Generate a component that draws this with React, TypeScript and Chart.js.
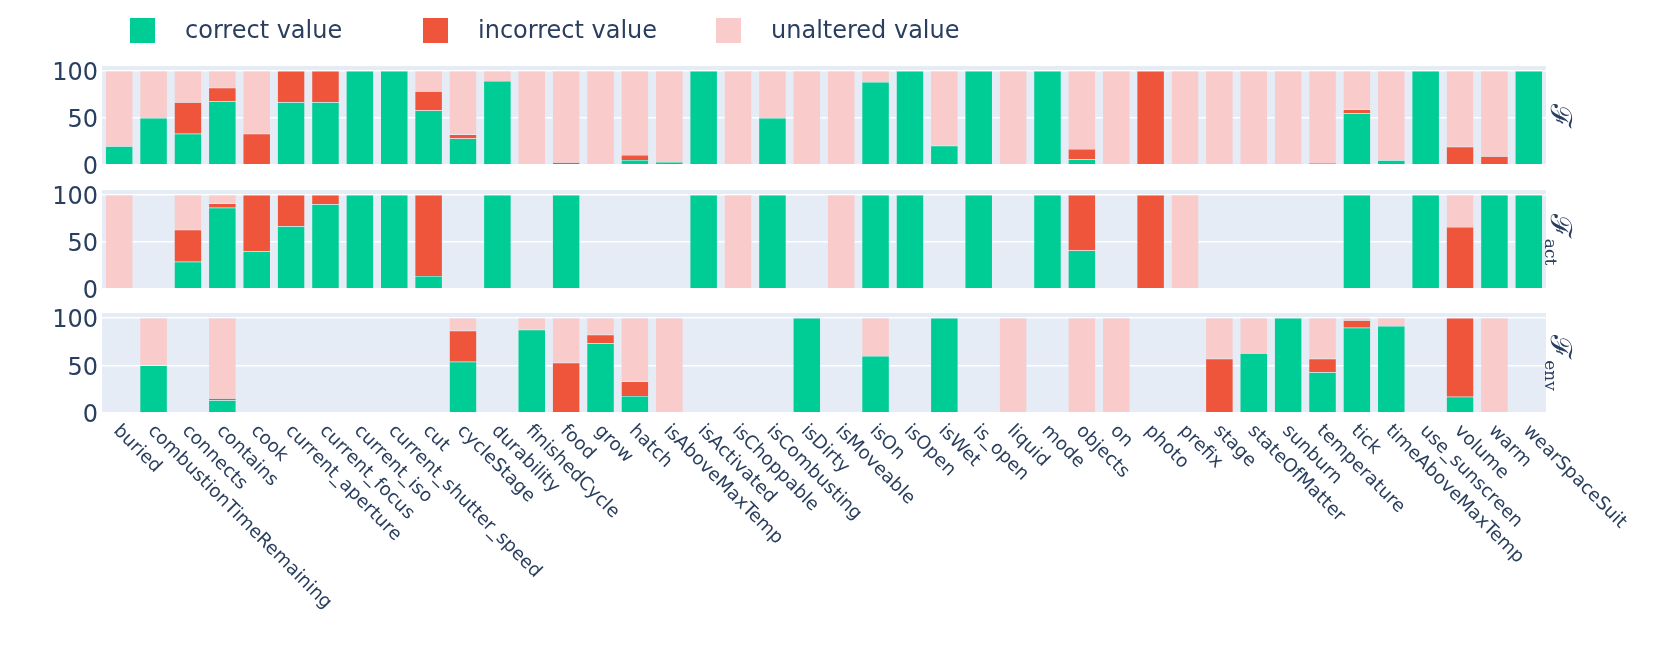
import React, { useEffect, useRef } from "react";
import { Chart, registerables } from "chart.js";

Chart.register(...registerables);

// ---------- data ----------
const categories = [
  "buried", "combustionTimeRemaining", "connects", "contains", "cook",
  "current_aperture", "current_focus", "current_iso", "current_shutter_speed", "cut",
  "cycleStage", "durability", "finishedCycle", "food", "grow",
  "hatch", "isAboveMaxTemp", "isActivated", "isChoppable", "isCombusting",
  "isDirty", "isMoveable", "isOn", "isOpen", "isWet",
  "is_open", "liquid", "mode", "objects", "on",
  "photo", "prefix", "stage", "stateOfMatter", "sunburn",
  "temperature", "tick", "timeAboveMaxTemp", "use_sunscreen", "volume",
  "warm", "wearSpaceSuit",
];

const seriesNames = ["correct value", "incorrect value", "unaltered value"];

// Panel F
const fCorrect = [20, 50, 33.3, 67.9, 0, 66.7, 66.7, 100, 100, 58, 28.3, 89.4, 0, 0, 0, 5.3, 3.2, 100, 0, 50, 0, 0, 88.3, 100, 20.5, 100, 0, 100, 6, 0, 0, 0, 0, 0, 0, 0, 54.8, 5, 100, 0, 0, 100];
const fIncorrect = [0, 0, 33.3, 14.3, 33.3, 33.3, 33.3, 0, 0, 20.5, 4.2, 0, 0, 2.8, 0, 5.3, 0, 0, 0, 0, 0, 0, 0, 0, 0, 0, 0, 0, 11, 0, 100, 0, 0, 0, 0, 2, 4.2, 0, 0, 19.4, 9.2, 0];
const fUnaltered = [80, 50, 33.4, 17.8, 66.7, 0, 0, 0, 0, 21.5, 67.5, 10.6, 100, 97.2, 100, 89.4, 96.8, 0, 100, 50, 100, 100, 11.7, 0, 79.5, 0, 100, 0, 83, 100, 0, 100, 100, 100, 100, 98, 41, 95, 0, 80.6, 90.8, 0];

// Panel F_act
const actCorrect = [0, 0, 29, 86.5, 40, 66.7, 90, 100, 100, 13.8, 0, 100, 0, 100, 0, 0, 0, 100, 0, 100, 0, 0, 100, 100, 0, 100, 0, 100, 41, 0, 0, 0, 0, 0, 0, 0, 100, 0, 100, 0, 100, 100];
const actIncorrect = [0, 0, 34, 4.3, 60, 33.3, 10, 0, 0, 86.2, 0, 0, 0, 0, 0, 0, 0, 0, 0, 0, 0, 0, 0, 0, 0, 0, 0, 0, 59, 0, 100, 0, 0, 0, 0, 0, 0, 0, 0, 66, 0, 0];
const actUnaltered = [100, 0, 37, 9.2, 0, 0, 0, 0, 0, 0, 0, 0, 0, 0, 0, 0, 0, 0, 100, 0, 0, 100, 0, 0, 0, 0, 0, 0, 0, 0, 0, 100, 0, 0, 0, 0, 0, 0, 0, 34, 0, 0];

// Panel F_env
const envCorrect = [0, 50, 0, 13.4, 0, 0, 0, 0, 0, 0, 54, 0, 87.6, 0, 73.5, 18, 0, 0, 0, 0, 100, 0, 60, 0, 100, 0, 0, 0, 0, 0, 0, 0, 0, 62.9, 100, 43, 89.7, 91.5, 0, 17, 0, 0];
const envIncorrect = [0, 0, 0, 2.1, 0, 0, 0, 0, 0, 0, 32.5, 0, 0, 53, 8.8, 15.2, 0, 0, 0, 0, 0, 0, 0, 0, 0, 0, 0, 0, 0, 0, 0, 0, 57.2, 0, 0, 14.2, 7.8, 0, 0, 83, 0, 0];
const envUnaltered = [0, 50, 0, 84.5, 0, 0, 0, 0, 0, 0, 13.5, 0, 12.4, 47, 17.7, 66.8, 100, 0, 0, 0, 0, 0, 40, 0, 0, 0, 100, 0, 100, 100, 0, 0, 42.8, 37.1, 0, 42.8, 2.5, 8.5, 0, 0, 100, 0];

const yTicks = [0, 50, 100];
const panelSubscripts = ["", "act", "env"];

// ---------- styles ----------
const TEXT = "#2a3f5f";
const GREEN = "#00CC96";
const RED = "#EF553B";
const PINK = "#F9CBCB";
const BG = "#E5ECF6";
const seriesColors = [GREEN, RED, PINK];
const FONT = "'DejaVu Sans', sans-serif";

type Panel = {
  top: number;
  height: number;
  padTop: number;
  padBottom: number;
  series: number[][];
  sub: string;
  legend: boolean;
  xLabels: boolean;
};

const panels: Panel[] = [
  { top: 0, height: 178, padTop: 66, padBottom: 13, series: [fCorrect, fIncorrect, fUnaltered], sub: panelSubscripts[0], legend: true, xLabels: false },
  { top: 178, height: 124, padTop: 12, padBottom: 13, series: [actCorrect, actIncorrect, actUnaltered], sub: panelSubscripts[1], legend: false, xLabels: false },
  { top: 302, height: 362, padTop: 11, padBottom: 251, series: [envCorrect, envIncorrect, envUnaltered], sub: panelSubscripts[2], legend: false, xLabels: true },
];

const bgPlugin = {
  id: "plotBg",
  beforeDraw(chart: any) {
    const { ctx, chartArea } = chart;
    ctx.save();
    ctx.fillStyle = BG;
    ctx.fillRect(chartArea.left, chartArea.top, chartArea.right - chartArea.left, chartArea.bottom - chartArea.top);
    ctx.restore();
  },
};

function makeSideLabel(sub: string) {
  return {
    id: "sideLabel",
    afterDraw(chart: any) {
      const { ctx, chartArea } = chart;
      ctx.save();
      ctx.fillStyle = TEXT;
      ctx.font = "29px 'DejaVu Serif', serif";
      const main = "ℱ";
      const w1 = ctx.measureText(main).width;
      ctx.font = "17px 'DejaVu Serif', serif";
      const w2 = sub ? ctx.measureText(sub).width + 1 : 0;
      const total = w1 + w2;
      const cy = (chartArea.top + chartArea.bottom) / 2;
      ctx.translate(chartArea.right + 5, cy - total / 2);
      ctx.rotate(Math.PI / 2);
      ctx.textBaseline = "alphabetic";
      ctx.textAlign = "left";
      ctx.font = "29px 'DejaVu Serif', serif";
      ctx.fillText(main, 0, 0);
      if (sub) {
        ctx.font = "17px 'DejaVu Serif', serif";
        ctx.fillText(sub, w1 + 1, 6);
      }
      ctx.restore();
    },
  };
}

const legendPlugin = {
  id: "topLegend",
  afterDraw(chart: any) {
    const { ctx } = chart;
    ctx.save();
    ctx.font = `24px ${FONT}`;
    ctx.textBaseline = "middle";
    ctx.textAlign = "left";
    seriesNames.forEach((name, k) => {
      const x0 = 130 + k * 293;
      ctx.fillStyle = seriesColors[k];
      ctx.fillRect(x0, 18, 25, 25);
      ctx.fillStyle = TEXT;
      ctx.fillText(name, x0 + 55, 32);
    });
    ctx.restore();
  },
};

const xLabelPlugin = {
  id: "xLabels",
  afterDraw(chart: any) {
    const { ctx, chartArea } = chart;
    const xs = chart.scales.x;
    ctx.save();
    ctx.font = `18.5px ${FONT}`;
    ctx.fillStyle = TEXT;
    ctx.textBaseline = "middle";
    ctx.textAlign = "left";
    categories.forEach((label, i) => {
      const x = xs.getPixelForValue(i);
      ctx.save();
      ctx.translate(x - 3, chartArea.bottom + 15);
      ctx.rotate(Math.PI / 4);
      ctx.fillText(label, 0, 0);
      ctx.restore();
    });
    ctx.restore();
  },
};

function makeConfig(panel: Panel): any {
  const toNull = (arr: number[]) => arr.map((v) => (v === 0 ? null : v));
  const plugins: any[] = [bgPlugin, makeSideLabel(panel.sub)];
  if (panel.legend) plugins.push(legendPlugin);
  if (panel.xLabels) plugins.push(xLabelPlugin);
  return {
    type: "bar",
    data: {
      labels: categories,
      datasets: panel.series.map((arr, k) => ({
        label: seriesNames[k],
        data: toNull(arr),
        backgroundColor: seriesColors[k],
        borderColor: BG,
        borderWidth: 0.5,
        categoryPercentage: 1,
        barPercentage: 0.8,
      })),
    },
    options: {
      animation: false,
      responsive: false,
      maintainAspectRatio: false,
      layout: { padding: { left: 0, right: 115, top: panel.padTop, bottom: panel.padBottom } },
      plugins: { legend: { display: false }, tooltip: { enabled: false } },
      scales: {
        x: { display: false, stacked: true, offset: true },
        y: {
          stacked: true,
          min: 0,
          max: 105.26,
          afterBuildTicks: (s: any) => {
            s.ticks = yTicks.map((v) => ({ value: v }));
          },
          afterFit: (s: any) => {
            s.width = 102;
            s.paddingTop = 0;
            s.paddingBottom = 0;
          },
          grid: {
            color: "#ffffff",
            lineWidth: (c: any) => (c.tick && c.tick.value === 0 ? 2 : 1.5),
            drawTicks: false,
          },
          border: { display: false },
          ticks: { color: TEXT, font: { family: FONT, size: 24 }, padding: 4, labelOffset: 3 },
        },
      },
    },
    plugins,
  };
}

function PanelChart({ panel }: { panel: Panel }) {
  const ref = useRef<HTMLCanvasElement | null>(null);
  useEffect(() => {
    if (!ref.current) return;
    const chart = new Chart(ref.current, makeConfig(panel));
    return () => chart.destroy();
  }, [panel]);
  return (
    <canvas
      ref={ref}
      width={1661}
      height={panel.height}
      style={{ position: "absolute", left: 0, top: panel.top, width: 1661, height: panel.height }}
    />
  );
}

export default function App() {
  return (
    <div style={{ position: "absolute", left: 0, top: 0, width: 1661, height: 664, background: "#ffffff", overflow: "hidden" }}>
      {panels.map((p, i) => (
        <PanelChart key={i} panel={p} />
      ))}
    </div>
  );
}
